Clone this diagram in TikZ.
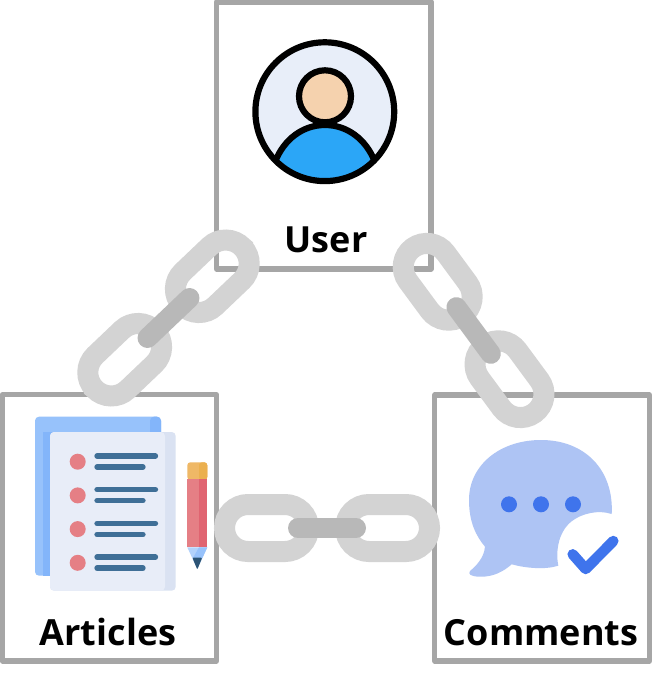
\documentclass[tikz,border=0pt]{standalone}
\usepackage{fontspec}
\setmainfont{Open Sans}
\definecolor{boxgray}{HTML}{A6A6A6}
\definecolor{linkgray}{HTML}{D3D3D3}
\definecolor{bargray}{HTML}{B8B8B8}
\definecolor{facepale}{HTML}{E8EEF9}
\definecolor{skintone}{HTML}{F5D2AE}
\definecolor{shirtblue}{HTML}{2BA6F7}
\definecolor{sheetback}{HTML}{97C2FB}
\definecolor{sheetshade}{HTML}{83B5FA}
\definecolor{sheetfront}{HTML}{E8EDF8}
\definecolor{sheetedge}{HTML}{DAE2F2}
\definecolor{bulletred}{HTML}{E57F85}
\definecolor{rowblue}{HTML}{3F6F97}
\definecolor{pencilred}{HTML}{E06471}
\definecolor{rubberpale}{HTML}{EFB866}
\definecolor{rubberdark}{HTML}{EBB04F}
\definecolor{woodblue}{HTML}{B3D2FB}
\definecolor{leadblue}{HTML}{2C5475}
\definecolor{bubbleblue}{HTML}{AEC4F4}
\definecolor{tickblue}{HTML}{3F74EC}
\tikzset{
  cardbox/.style={draw=boxgray,line width=5.2pt,line join=round,inner sep=0pt,fill=white},
  cardname/.style={anchor=base,font=\bfseries\fontsize{36}{36}\selectfont,inner sep=0pt},
  chainpic/.pic={
    \draw[linkgray,line width=21pt,rounded corners=23.5pt] (-102.5,-23.5) rectangle (-18.5,23.5);
    \draw[linkgray,line width=21pt,rounded corners=23.5pt] (18.5,-23.5) rectangle (102.5,23.5);
    \draw[bargray,line width=20pt,line cap=round] (-29,0) -- (29,0);
  }
}
\begin{document}
\begin{tikzpicture}[x=1pt,y=-1pt]
   \useasboundingbox (0,0) rectangle (662,677);
   % Cards
   \node[cardbox,minimum width=214.5pt,minimum height=267pt] (userbox) at (323.75,135.5) {};
   \node[cardbox,minimum width=214.2pt,minimum height=266.3pt] (articlesbox) at (109.4,527.85) {};
   \node[cardbox,minimum width=214.7pt,minimum height=266pt] (commentsbox) at (542.15,528) {};
   % Card names
   \node[cardname] (username) at (326,252) {User};
   \node[cardname] (articlesname) at (108,645) {Articles};
   \node[cardname] (commentsname) at (541,645) {Comments};
   % User icon
   \coordinate (usercentre) at (324.8,111.7);
   \fill[facepale] (usercentre) circle (69.4pt);
   \begin{scope}
     \clip (usercentre) circle (69.4pt);
     \draw[fill=shirtblue,draw=black,line width=6.2pt] (275,162) .. controls (284,139) and (303,125) .. (325,125) .. controls (347,125) and (366,139) .. (375,162) -- (375,195) -- (275,195) -- cycle;
   \end{scope}
   \draw[black,line width=6.2pt] (usercentre) circle (69.4pt);
   \draw[black,fill=skintone,line width=6.2pt] (325,96.3) circle (26pt);
   % Articles icon: back sheet
   \fill[sheetback,rounded corners=4pt] (35,416.7) rectangle (161,575.7);
   \fill[sheetshade,rounded corners=4pt] (150,416.7) rectangle (161,440);
   \fill[sheetshade] (42.7,432) rectangle (55,575.7);
   % Articles icon: front sheet
   \fill[sheetedge,rounded corners=4pt] (50,432) rectangle (175.7,590.7);
   \fill[sheetfront,rounded corners=4pt] (50,432) -- (165,432) -- (165,590.7) -- (50,590.7) -- cycle;
   \foreach \row in {0,1,2,3} {
     \fill[bulletred] (77.7,461.7+33.7*\row) circle (8pt);
     \draw[rowblue,line width=5.3pt,line cap=round] (97,456+33.7*\row) -- (155.5,456+33.7*\row);
     \draw[rowblue,line width=5.3pt,line cap=round] (97,467+33.7*\row) -- (143,467+33.7*\row);
   }
   % Articles icon: pencil
   \fill[rubberpale,rounded corners=3pt] (187.3,480) -- (187.3,462.3) -- (207.3,462.3) -- (207.3,480) -- cycle;
   \fill[rubberdark,rounded corners=3pt] (199,480) -- (199,462.3) -- (207.3,462.3) -- (207.3,480) -- cycle;
   \fill[bulletred] (187.3,478.7) rectangle (207.3,547.3);
   \fill[pencilred] (199,478.7) rectangle (207.3,547.3);
   \fill[woodblue] (187.3,547.3) -- (207.3,547.3) -- (197.3,569) -- cycle;
   \fill[sheetback] (199,547.3) -- (207.3,547.3) -- (202.4,558) -- (193,558) -- cycle;
   \fill[leadblue,rounded corners=1pt] (192.4,557.7) -- (202.2,557.7) -- (197.3,569.5) -- cycle;
   % Comments icon
   \fill[bubbleblue] (558.3,565.7) .. controls (556,555) and (556.5,533) .. (572,521) .. controls (582,513.5) and (598,509.5) .. (611.7,514) .. controls (614,470) and (585,440) .. (541,440) .. controls (500,440) and (469,465) .. (469,500) .. controls (469,522) and (476,536) .. (485,546.7) .. controls (484,558) and (476,566) .. (470,571) .. controls (468,574) and (470,576.5) .. (480,576.7) .. controls (494,577) and (504,571) .. (511.7,564.3) .. controls (525,568) and (545,570) .. (558.3,565.7) -- cycle;
   \foreach \dotx in {509,541,573} {
     \fill[tickblue] (\dotx,504.3) circle (8pt);
   }
   \draw[tickblue,line width=10.5pt,line cap=round,line join=round] (572.7,554.3) -- (585.7,569) -- (613.3,541);
   % Chains
   \coordinate (leftchain) at (168.5,318);
   \coordinate (rightchain) at (473.6,330.5);
   \coordinate (bottomchain) at (327,528);
   \pic[rotate=43.6] at (leftchain) {chainpic};
   \pic[rotate=-53.6] at (rightchain) {chainpic};
   \pic at (bottomchain) {chainpic};
\end{tikzpicture}
\end{document}
